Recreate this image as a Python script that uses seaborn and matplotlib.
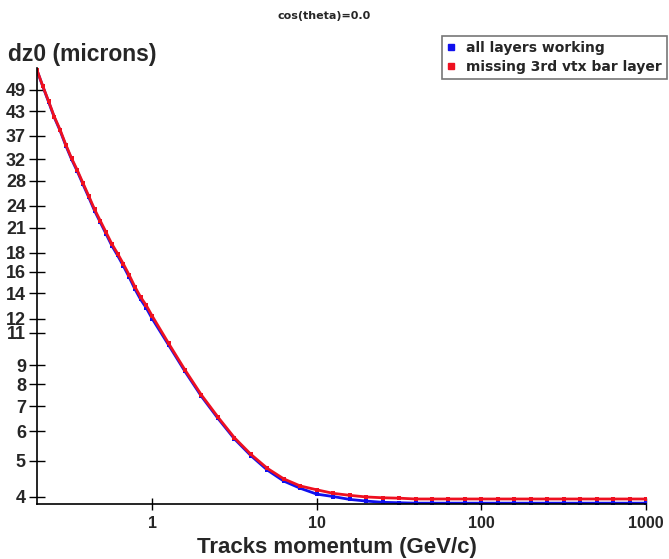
import matplotlib
matplotlib.use("Agg")
import matplotlib.pyplot as plt
from matplotlib.lines import Line2D
import numpy as np
import pandas as pd
import seaborn as sns

# Track momentum points (GeV/c)
momentum = [0.2, 0.2168, 0.2349, 0.2546, 0.2759, 0.2991, 0.3241, 0.3513, 0.3807,
            0.4126, 0.4472, 0.4847, 0.5253, 0.5693, 0.6170, 0.6687, 0.7248, 0.7855,
            0.8513, 0.9227, 1.0, 1.259, 1.585, 1.995, 2.512, 3.162, 3.981, 5.012,
            6.310, 7.943, 10.0, 12.59, 15.85, 19.95, 25.12, 31.62, 39.81, 50.12,
            63.10, 79.43, 100.0, 125.9, 158.5, 199.5, 251.2, 316.2, 398.1, 501.2,
            631.0, 794.3, 1000.0]

# dz0 resolution (microns)
dz0_all_layers = [55.3, 50.1, 45.6, 41.4, 38.2, 34.8, 32.0, 29.7, 27.4, 25.3,
                  23.3, 21.7, 20.2, 18.8, 17.7, 16.6, 15.5, 14.4, 13.5, 12.8,
                  12.0, 10.2, 8.66, 7.43, 6.49, 5.72, 5.16, 4.72, 4.41, 4.22,
                  4.07, 4.01, 3.94, 3.90, 3.87, 3.86, 3.85, 3.85, 3.85, 3.85,
                  3.85, 3.85, 3.85, 3.85, 3.85, 3.85, 3.85, 3.85, 3.85, 3.85, 3.85]
dz0_missing_layer = [55.4, 50.2, 45.8, 41.6, 38.4, 35.0, 32.2, 29.9, 27.6, 25.5,
                     23.5, 21.9, 20.4, 19.0, 17.9, 16.8, 15.7, 14.6, 13.7, 13.0,
                     12.2, 10.3, 8.74, 7.49, 6.54, 5.76, 5.20, 4.77, 4.47, 4.28,
                     4.18, 4.09, 4.04, 4.00, 3.98, 3.97, 3.95, 3.95, 3.95, 3.95,
                     3.95, 3.95, 3.95, 3.95, 3.95, 3.95, 3.95, 3.95, 3.95, 3.95, 3.95]

series_names = ["all layers working", "missing 3rd vtx bar layer"]
series_colors = ["#1010ee", "#ee1020"]

y_ticks = [4, 5, 6, 7, 8, 9, 11, 12, 14, 16, 18, 21, 24, 28, 32, 37, 43, 49]
x_ticks = [1, 10, 100, 1000]

df = pd.DataFrame({
    "p": momentum * 2,
    "dz0": dz0_all_layers + dz0_missing_layer,
    "series": [series_names[0]] * len(momentum) + [series_names[1]] * len(momentum),
})

sns.set_style("white")
plt.rcParams["font.family"] = ["Liberation Sans", "DejaVu Sans"]

fig = plt.figure(figsize=(6.69, 5.59), dpi=100)
ax = fig.add_axes([37 / 669, 1 - 504 / 559, (646 - 37) / 669, (504 - 68) / 559])

sns.lineplot(data=df, x="p", y="dz0", hue="series", palette=series_colors,
             marker="s", markersize=3.5, markeredgewidth=0, linewidth=2,
             legend=False, ax=ax)

ax.set_xscale("log")
ax.set_yscale("log")
ax.set_xlim(0.2, 1000)
ax.set_ylim(3.83, 56.1)

ax.yaxis.set_major_locator(matplotlib.ticker.FixedLocator(y_ticks))
ax.yaxis.set_minor_locator(matplotlib.ticker.NullLocator())
ax.yaxis.set_major_formatter(matplotlib.ticker.FixedFormatter([str(t) for t in y_ticks]))
ax.xaxis.set_major_locator(matplotlib.ticker.FixedLocator(x_ticks))
ax.xaxis.set_minor_locator(matplotlib.ticker.NullLocator())
ax.xaxis.set_major_formatter(matplotlib.ticker.FixedFormatter([str(t) for t in x_ticks]))

ax.tick_params(axis="both", direction="inout", width=1, color="black",
               left=True, bottom=True)
ax.tick_params(axis="y", length=12, labelsize=13, pad=2)
ax.tick_params(axis="x", length=8, labelsize=11.5, pad=4.5)
for lab in ax.get_xticklabels() + ax.get_yticklabels():
    lab.set_fontweight("bold")

for side in ["top", "right"]:
    ax.spines[side].set_visible(False)
for side in ["left", "bottom"]:
    ax.spines[side].set_color("black")
    ax.spines[side].set_linewidth(1.2)

ax.set_xlabel("")
ax.set_ylabel("")
fig.text(8 / 669, 1 - 55 / 559, "dz0 (microns)", fontsize=16.5, fontweight="bold",
         ha="left", va="center")
fig.text(337 / 669, 1 - 548 / 559, "Tracks momentum (GeV/c)", fontsize=16,
         fontweight="bold", ha="center", va="center")
fig.text(324 / 669, 1 - 16 / 559, "cos(theta)=0.0", fontsize=8, fontweight="bold",
         ha="center", va="center", family=["DejaVu Sans"])

handles = [Line2D([], [], marker="s", linestyle="none", color=c, markersize=5)
           for c in series_colors]
leg = fig.legend(handles, series_names, loc="upper left",
                 bbox_to_anchor=(442 / 669, 1 - 36 / 559), frameon=True,
                 fancybox=False, handlelength=0.6, handletextpad=0.8,
                 borderpad=0.35, labelspacing=0.35, borderaxespad=0,
                 prop={"family": "DejaVu Sans", "weight": "bold", "size": 10})
leg.get_frame().set_edgecolor("#555555")
leg.get_frame().set_linewidth(1.2)

fig.savefig("out.png", dpi=100)
